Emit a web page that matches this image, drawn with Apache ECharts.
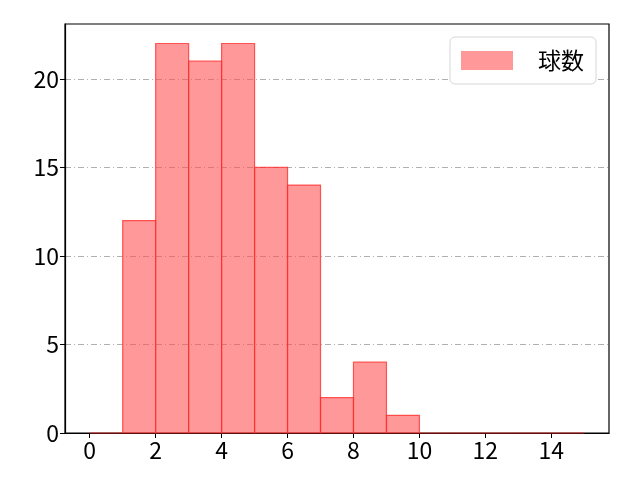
<!DOCTYPE html>
<html>
<head>
<meta charset="utf-8">
<script src="https://cdn.jsdelivr.net/npm/echarts@6/dist/echarts.min.js"></script>
<style>
  html, body { margin: 0; padding: 0; background: #fff; }
  #main { width: 640px; height: 480px; }
</style>
</head>
<body>
<div id="main"></div>
<script>
// ヒストグラムのビン（左端・右端）と度数
var binStarts = [0, 1, 2, 3, 4, 5, 6, 7, 8, 9, 10, 11, 12, 13, 14];
var binEnds = [1, 2, 3, 4, 5, 6, 7, 8, 9, 10, 11, 12, 13, 14, 15];
var counts = [0, 12, 22, 21, 22, 15, 14, 2, 4, 1, 0, 0, 0, 0, 0];
var xTicks = [0, 2, 4, 6, 8, 10, 12, 14];
var yTicks = [0, 5, 10, 15, 20];
var seriesName = '球数';

var fontFamily = '"Noto Sans CJK JP", "Noto Sans", sans-serif';

var data = binStarts.map(function (s, i) {
    return [s, binEnds[i], counts[i]];
});

var chart = echarts.init(document.getElementById('main'), null, { renderer: 'canvas' });
var option = {
    animation: false,
    grid: {
        left: 65, right: 31, top: 24, bottom: 47,
        show: true, borderColor: '#000', borderWidth: 1.2,
        backgroundColor: 'transparent'
    },
    legend: {
        right: 44, top: 37,
        data: [{ name: seriesName, icon: 'rect' }],
        itemWidth: 52, itemHeight: 19,
        padding: [12, 12, 12, 11],
        backgroundColor: '#fff',
        borderColor: '#d6d6d6', borderWidth: 1, borderRadius: 5,
        textStyle: { fontSize: 23, color: '#000', fontFamily: fontFamily, padding: [0, 0, 0, 20] }
    },
    xAxis: {
        type: 'value',
        min: -0.75, max: 15.75,
        axisLine: { show: true, onZero: false, lineStyle: { color: '#000', width: 1.2 } },
        axisTick: { show: true, length: 5, customValues: xTicks, lineStyle: { color: '#000' } },
        axisLabel: { customValues: xTicks, fontSize: 23, color: '#000', margin: 6, fontFamily: fontFamily },
        splitLine: { show: false }
    },
    yAxis: {
        type: 'value',
        min: 0, max: 23.1, interval: 5,
        axisLine: { show: true, onZero: false, lineStyle: { color: '#000', width: 1.2 } },
        axisTick: { show: true, length: 5, customValues: yTicks, lineStyle: { color: '#000' } },
        axisLabel: { customValues: yTicks, fontSize: 23, color: '#000', margin: 6, fontFamily: fontFamily },
        splitLine: { show: true, lineStyle: { color: '#b0b0b0', width: 1, type: [6, 3, 1, 3] } }
    },
    series: [{
        name: seriesName,
        type: 'custom',
        itemStyle: { color: 'rgba(255,80,80,0.58)', borderColor: 'rgba(255,40,40,0.75)' },
        encode: { x: [0, 1], y: 2 },
        data: data,
        renderItem: function (params, api) {
            var p0 = api.coord([api.value(0), api.value(2)]);
            var p1 = api.coord([api.value(1), 0]);
            return {
                type: 'rect',
                shape: { x: p0[0], y: p0[1], width: p1[0] - p0[0], height: p1[1] - p0[1] },
                style: { fill: 'rgba(255,80,80,0.58)', stroke: 'rgba(255,40,40,0.75)', lineWidth: 1.2 }
            };
        }
    }]
};
chart.setOption(option);
</script>
</body>
</html>
